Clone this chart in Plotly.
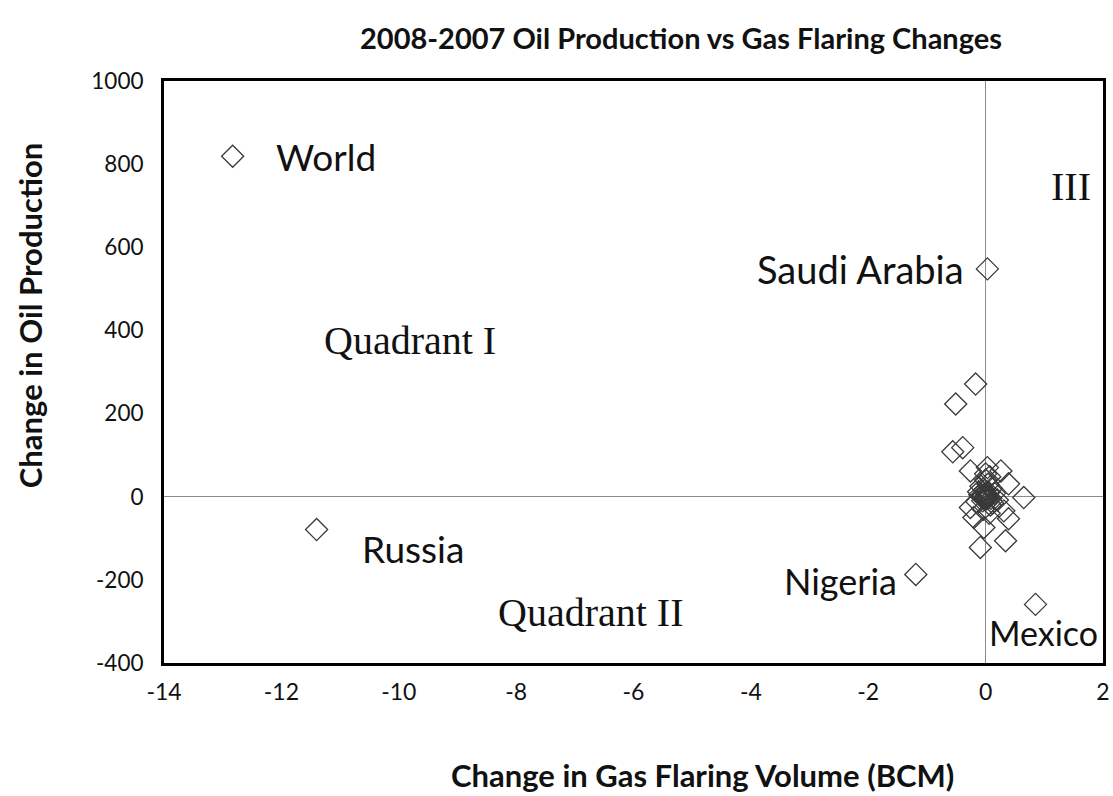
import plotly.graph_objects as go

# Labeled points
labeled_names = ["World", "Russia", "Saudi Arabia", "Nigeria", "Mexico"]
labeled_x = [-12.83, -11.4, 0.03, -1.19, 0.85]
labeled_y = [819, -79, 548, -187, -259]

# Unlabeled country points (cluster near origin)
other_x = [-0.17, -0.51, -0.56, -0.39, -0.26, 0.03, 0.26, 0.39, 0.65, 0.31, 0.39, 0.34,
           -0.03, -0.09, -0.26, -0.2, 0.0, 0.05, -0.05, 0.1, -0.1, 0.02, -0.02, 0.08,
           -0.08, 0.12, 0.0, 0.04, -0.04, 0.15, -0.15, 0.06, 0.0, 0.2, -0.12, 0.07,
           0.01, -0.01, 0.03, -0.03, 0.0, 0.02, -0.06, 0.09, -0.07, 0.05]
other_y = [271, 223, 108, 118, 62, 70, 62, 31, -2, -34, -53, -106,
           -74, -122, -26, -50, 0, 10, -10, 20, 5, -5, 15, -20,
           25, -15, 40, 30, -30, 8, -12, -40, 55, -8, 12, 48,
           2, -3, -1, 4, -6, 6, 0, -4, 3, -2]

x_ticks = [-14, -12, -10, -8, -6, -4, -2, 0, 2]
x_ticktext = ["-14", "-12", "-10", "-8", "-6", "-4", "-2", "0", "2"]
y_ticks = [-400, -200, 0, 200, 400, 600, 800, 1000]
y_ticktext = ["-400", "-200", "0", "200", "400", "600", "800", "1000"]

label_text = ["World", "Russia", "Saudi Arabia", "Nigeria", "Mexico", "III", "Quadrant I", "Quadrant II"]
label_x = [-11.24, -9.76, -0.34, -1.48, 0.99, 1.45, -9.8, -6.73]
label_y = [819, -125, 548, -202, -327, 747, 375, -279]
label_anchor = ["center", "center", "right", "right", "center", "center", "center", "center"]
label_serif = [False, False, False, False, False, True, True, True]
label_size = [37, 37, 38, 36, 34, 40, 40, 40]

fig = go.Figure()
fig.add_trace(go.Scatter(
    x=other_x + labeled_x, y=other_y + labeled_y, mode="markers",
    marker=dict(symbol="diamond-open", size=17, color="#3a3a3a", line=dict(width=1.3)),
    showlegend=False, hoverinfo="x+y"))

for t, x, y, a, s, fs in zip(label_text, label_x, label_y, label_anchor, label_serif, label_size):
    fig.add_annotation(x=x, y=y, text=t, showarrow=False, xanchor=a, yanchor="middle",
                       font=dict(family="Liberation Serif" if s else "Lato",
                                 size=fs, color="#111"))

# Title and axis titles as paper annotations
fig.add_annotation(x=0.5506, y=1.0756, xref="paper", yref="paper", showarrow=False,
                   text="<b>2008-2007 Oil Production vs Gas Flaring Changes</b>",
                   xanchor="center", yanchor="middle",
                   font=dict(family="Lato", size=29, color="#111"))
fig.add_annotation(x=0.573, y=-0.1924, xref="paper", yref="paper", showarrow=False,
                   text="<b>Change in Gas Flaring Volume (BCM)</b>",
                   xanchor="center", yanchor="middle",
                   font=dict(family="Lato", size=31, color="#111"))
fig.add_annotation(x=-0.1427, y=0.596, xref="paper", yref="paper", showarrow=False,
                   text="<b>Change in Oil Production</b>", textangle=-90,
                   xanchor="center", yanchor="middle",
                   font=dict(family="Lato", size=31, color="#111"))

fig.update_layout(
    width=1113, height=796,
    margin=dict(l=164, r=10, t=81, b=133, autoexpand=False),
    plot_bgcolor="white", paper_bgcolor="white",
    font=dict(family="Lato", size=22, color="#111"),
    xaxis=dict(range=[-14, 2], tickvals=x_ticks, ticktext=x_ticktext,
               showgrid=False, zeroline=True, automargin=False,
               zerolinecolor="#8c8c8c", zerolinewidth=1,
               showline=True, linecolor="black", linewidth=3, mirror=True,
               ticks="", ticklabelstandoff=6,
               tickfont=dict(size=23)),
    yaxis=dict(range=[-400, 1000], tickvals=y_ticks, ticktext=y_ticktext,
               showgrid=False, zeroline=True, automargin=False,
               zerolinecolor="#8c8c8c", zerolinewidth=1,
               showline=True, linecolor="black", linewidth=3, mirror=True,
               ticks="", ticklabelstandoff=13,
               tickfont=dict(size=22.5)),
)

fig.write_html("out.html", config={"displayModeBar": False},
               post_script="document.body.style.margin='0';document.body.style.overflow='hidden';")
